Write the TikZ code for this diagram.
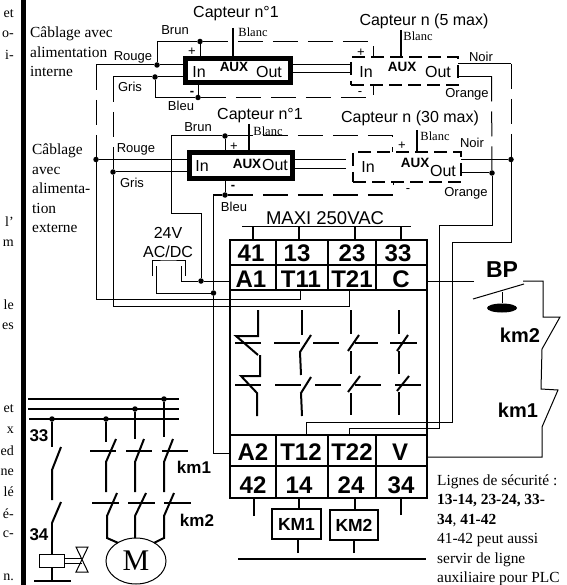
\documentclass[tikz,border=0pt]{standalone}
\usepackage{fontspec}
\setmainfont{Liberation Serif}
\setsansfont{Liberation Sans}
\usetikzlibrary{positioning,shapes.geometric}

\tikzset{
    wire/.style = {line width = 1},
    dashwire/.style = {line width = 1, dash pattern = on 25pt off 10pt},
    heavy/.style = {line width = 2},
    junction/.style = {circle, fill = black, inner sep = 0, minimum size = 5.5pt},
    sensorbox/.style = {draw, rectangle, line width = 5, inner sep = 0, outer sep = 0},
    dashbox/.style = {draw, rectangle, line width = 2, inner sep = 0, outer sep = 0, dash pattern = on 13pt off 6pt},
    cell/.style = {draw, rectangle, line width = 2, inner sep = 0, outer sep = 0},
    celltext/.style = {font = \sffamily\bfseries\fontsize{24}{24}\selectfont, inner sep = 0},
    tag/.style = {font = \sffamily\fontsize{13}{13}\selectfont, inner sep = 0},
    serifTag/.style = {font = \fontsize{12.5}{13}\selectfont, inner sep = 0},
    title/.style = {font = \sffamily\fontsize{16}{16}\selectfont, inner sep = 0},
    pinText/.style = {font = \sffamily\fontsize{16}{16}\selectfont, inner sep = 0},
    auxText/.style = {font = \sffamily\bfseries\fontsize{13.5}{14}\selectfont, inner sep = 0},
    signText/.style = {font = \sffamily\fontsize{13}{13}\selectfont, inner sep = 0},
    coilText/.style = {font = \sffamily\bfseries\fontsize{20}{20}\selectfont, inner sep = 0},
    smallBold/.style = {font = \sffamily\bfseries\fontsize{17}{17}\selectfont, inner sep = 0},
    note/.style = {font = \fontsize{15.4}{19.5}\selectfont, inner sep = 0, align = left},
    cutText/.style = {font = \fontsize{14}{15}\selectfont, inner sep = 0, anchor = east},
}

\begin{document}
\begin{tikzpicture}[x = 1pt, y = -1pt]
    \useasboundingbox (0,0) rectangle (566,585);

    \fill (21,0) rectangle (26,585);

    \node (cutA) [cutText] at (14,14) {et};
    \node (cutB) [cutText] at (14,34) {o-};
    \node (cutC) [cutText] at (14,55) {i-};
    \node (cutD) [cutText] at (14,222) {l’};
    \node (cutE) [cutText] at (14,243) {m};
    \node (cutF) [cutText] at (14,305) {le};
    \node (cutG) [cutText] at (14,326) {es};
    \node (cutH) [cutText] at (14,409) {et};
    \node (cutI) [cutText] at (14,430) {x};
    \node (cutJ) [cutText] at (14,451) {ed};
    \node (cutK) [cutText] at (14,472) {ne};
    \node (cutL) [cutText] at (14,492) {lé};
    \node (cutM) [cutText] at (14,514) {é-};
    \node (cutN) [cutText] at (14,534) {c-};
    \node (cutO) [cutText] at (14,577) {n.};

    \node (wiringInt) [note, anchor = west] at (30,52) {Câblage avec\\alimentation\\interne};
    \node (wiringExt) [note, anchor = west] at (32,188.5) {Câblage\\avec\\alimenta-\\tion\\externe};
    \node (safety) [note, anchor = west] at (437,530.5) {Lignes de sécurité :\\\textbf{13-14, 23-24, 33-}\\\textbf{34}, \textbf{41-42}\\41-42 peut aussi\\servir de ligne\\auxiliaire pour PLC};

    \node (sensorA) [sensorbox, minimum width = 105pt, minimum height = 24.5pt] at (238,70.75) {};
    \node (sensorB) [sensorbox, minimum width = 103pt, minimum height = 26pt] at (240.5,166) {};
    \node (sensorC) [dashbox, minimum width = 107pt, minimum height = 28pt] at (404.5,71) {};
    \node (sensorD) [dashbox, minimum width = 108pt, minimum height = 30pt] at (407,167) {};

    \node (brunA) [junction] at (200,41.5) {};
    \node (rougeA) [junction] at (157,65) {};
    \node (grisA) [junction] at (155,77) {};
    \node (bleuA) [junction] at (198,97.5) {};
    \node (rougeB) [junction] at (96,159.5) {};
    \node (grisB) [junction] at (113,172) {};
    \node (brunB) [junction] at (225,136) {};
    \node (bleuB) [junction] at (225,195) {};
    \node (noirD) [junction] at (511,159.5) {};
    \node (orangeD) [junction] at (492,173) {};
    \node (dotA1) [junction] at (201,281) {};
    \node (dotNeg) [junction] at (213.5,293) {};

    \coordinate (rougeTop) at (96,65);
    \coordinate (grisTop) at (113,77);
    \coordinate (plusC) at (373,57);
    \coordinate (minusC) at (373,85);
    \coordinate (plusD) at (392,152);
    \coordinate (minusD) at (393,182);
    \coordinate (blancA) at (233,28);
    \coordinate (blancB) at (249,124);
    \coordinate (blancC) at (401,30);
    \coordinate (blancD) at (417,130);
    \coordinate (linkLowA) at (293,73);
    \coordinate (stubB) at (346,159.5);
    \coordinate (stubLowB) at (346,169);
    \coordinate (noirTop) at (511,64);
    \coordinate (orangeTop) at (491.5,76.5);
    \coordinate (t11Low) at (300,299);
    \coordinate (t21Low) at (349,306);
    \coordinate (t12Low) at (306,422);
    \coordinate (t22Low) at (349,428);
    \coordinate (noirBend) at (452,242);
    \coordinate (orangeBend) at (439,225);
    \coordinate (brunBend) at (171,213);
    \coordinate (a2In) at (230,453);
    \coordinate (acLeft) at (152,276);
    \coordinate (acRight) at (185,276);
    \coordinate (acTop) at (168,260);
    \coordinate (pinLeft) at (156,266);
    \coordinate (pinRight) at (181,266);

    \node (block) [cell, minimum width = 197pt, minimum height = 258pt] at (328.5,369) {};
    \node (c41) [cell, minimum width = 46pt, minimum height = 25pt] at (253,252.5) {};
    \node (c13) [cell, minimum width = 52pt, minimum height = 25pt] at (302,252.5) {};
    \node (c23) [cell, minimum width = 48pt, minimum height = 25pt] at (352,252.5) {};
    \node (c33) [cell, minimum width = 51pt, minimum height = 25pt] at (401.5,252.5) {};
    \node (cA1) [cell, minimum width = 46pt, minimum height = 25pt] at (253,277.5) {};
    \node (cT11) [cell, minimum width = 52pt, minimum height = 25pt] at (302,277.5) {};
    \node (cT21) [cell, minimum width = 48pt, minimum height = 25pt] at (352,277.5) {};
    \node (cC) [cell, minimum width = 51pt, minimum height = 25pt] at (401.5,277.5) {};
    \node (cA2) [cell, minimum width = 46pt, minimum height = 31pt] at (253,450.5) {};
    \node (cT12) [cell, minimum width = 52pt, minimum height = 31pt] at (302,450.5) {};
    \node (cT22) [cell, minimum width = 48pt, minimum height = 31pt] at (352,450.5) {};
    \node (cV) [cell, minimum width = 51pt, minimum height = 31pt] at (401.5,450.5) {};
    \node (c42) [cell, minimum width = 46pt, minimum height = 32pt] at (253,482) {};
    \node (c14) [cell, minimum width = 52pt, minimum height = 32pt] at (302,482) {};
    \node (c24) [cell, minimum width = 48pt, minimum height = 32pt] at (352,482) {};
    \node (c34) [cell, minimum width = 51pt, minimum height = 32pt] at (401.5,482) {};

    \node (t41) [celltext] at (251,253) {41};
    \node (t13) [celltext] at (297,253) {13};
    \node (t23) [celltext] at (352,253) {23};
    \node (t33) [celltext] at (398,253) {33};
    \node (tA1) [celltext] at (251,279.5) {A1};
    \node (tT11) [celltext] at (301,279.5) {T11};
    \node (tT21) [celltext] at (352,279.5) {T21};
    \node (tC) [celltext] at (401,279.5) {C};
    \node (tA2) [celltext] at (253,452) {A2};
    \node (tT12) [celltext] at (301,452) {T12};
    \node (tT22) [celltext] at (352,452) {T22};
    \node (tV) [celltext] at (400,452) {V};
    \node (t42) [celltext] at (253,485) {42};
    \node (t14) [celltext] at (299,485) {14};
    \node (t24) [celltext] at (351,485) {24};
    \node (t34) [celltext] at (401,485) {34};

    \draw [wire] (rougeTop) -- (rougeA) -- (rougeA -| sensorA.west);
    \draw [wire] (grisTop) -- (grisA) -- (grisA -| sensorA.west);
    \draw [wire] (rougeA) |- (brunA);
    \draw [wire] (grisA) |- (bleuA);
    \draw [wire] (brunA) -- (brunA |- sensorA.north);
    \draw [wire] (bleuA) -- (bleuA |- sensorA.south);
    \draw [dashwire] (brunA) -| (plusC);
    \draw [dashwire] (bleuA) -| (minusC);
    \draw [dashwire] (rougeTop) -- (rougeB);
    \draw [dashwire] (grisTop) -- (grisB);
    \draw [wire] (rougeA -| sensorA.east) -- (rougeA -| sensorC.west);
    \draw [wire] (linkLowA) -- (linkLowA -| sensorC.west);

    \draw [wire] (rougeB) -- (rougeB -| sensorB.west);
    \draw [wire] (grisB) -- (grisB -| sensorB.west);
    \draw [wire] (rougeB) |- (t11Low) -- (t11Low |- cT11.south);
    \draw [wire] (grisB) |- (t21Low) -- (t21Low |- cT21.south);
    \draw [wire] (brunB) -- (brunB |- sensorB.north);
    \draw [wire] (bleuB) -- (bleuB |- sensorB.south);
    \draw [wire] (brunB) -| (brunBend) -| (dotA1);
    \draw [wire] (bleuB) -| (dotNeg);
    \draw [wire] (dotNeg) |- (a2In);
    \draw [dashwire] (brunB) -| (plusD);
    \draw [dashwire] (bleuB) -| (minusD);
    \draw [wire] (stubB) -- (stubB -| sensorB.east);
    \draw [wire] (stubLowB) -- (stubLowB -| sensorB.east);

    \draw [wire] (noirTop) -- (noirTop -| sensorC.east);
    \draw [wire] (orangeTop) -- (orangeTop -| sensorC.east);
    \draw [dashwire] (noirTop) -- (noirD);
    \draw [dashwire] (orangeTop) -- (orangeD);
    \draw [wire] (noirD) -- (noirD -| sensorD.east);
    \draw [wire] (orangeD) -- (orangeD -| sensorD.east);
    \draw [wire] (noirD) |- (noirBend) |- (t12Low) -- (t12Low |- cT12.north);
    \draw [wire] (orangeD) |- (orangeBend) |- (t22Low) -- (t22Low |- cT22.north);

    \draw [wire] (acLeft) |- (acTop) -| (acRight);
    \draw [wire] (pinLeft) |- (dotNeg);
    \draw [wire] (pinRight) |- (dotA1);
    \draw [wire] (dotA1) -- (dotA1 -| cA1.west);

    \draw [heavy] (blancA) -- (blancA |- sensorA.north);
    \draw [heavy] (blancB) -- (blancB |- sensorB.north);
    \draw [heavy] (blancC) -- (blancC |- sensorC.north);
    \draw [heavy] (blancD) -- (blancD |- sensorD.north);

    \node (capteurA) [title] at (236,14) {Capteur n°1};
    \node (capteurB) [title] at (260,116) {Capteur n°1};
    \node (capteurC) [title] at (424,21) {Capteur n (5 max)};
    \node (capteurD) [title] at (410,118) {Capteur n (30 max)};

    \node (labelBrunA) [tag] at (175,30) {Brun};
    \node (labelRougeA) [tag] at (133,57) {Rouge};
    \node (labelGrisA) [tag] at (130,87) {Gris};
    \node (labelBleuA) [tag] at (181,106) {Bleu};
    \node (labelBrunB) [tag] at (198,127) {Brun};
    \node (labelRougeB) [tag] at (136,149) {Rouge};
    \node (labelGrisB) [tag] at (132,183) {Gris};
    \node (labelBleuB) [tag] at (234,207) {Bleu};
    \node (labelNoirC) [tag] at (481,57) {Noir};
    \node (labelOrangeC) [tag] at (467,94) {Orange};
    \node (labelNoirD) [tag] at (472,143) {Noir};
    \node (labelOrangeD) [tag] at (466,193) {Orange};

    \node (labelBlancA) [serifTag] at (253,32) {Blanc};
    \node (labelBlancB) [serifTag] at (268,131) {Blanc};
    \node (labelBlancC) [serifTag] at (418,36) {Blanc};
    \node (labelBlancD) [serifTag] at (435,136) {Blanc};

    \node (inA) [pinText] at (199,72) {In};
    \node (auxA) [auxText] at (234,67) {AUX};
    \node (outA) [pinText] at (269,72) {Out};
    \node (inB) [pinText] at (202,166) {In};
    \node (auxB) [auxText] at (247,164) {AUX};
    \node (outB) [pinText] at (275,165) {Out};
    \node (inC) [pinText] at (366,72) {In};
    \node (auxC) [auxText] at (402,67) {AUX};
    \node (outC) [pinText] at (438,72) {Out};
    \node (inD) [pinText] at (368,167) {In};
    \node (auxD) [auxText] at (415,163) {AUX};
    \node (outD) [pinText] at (443,171) {Out};

    \node (plusTagA) [signText] at (192,52) {+};
    \node (minusTagA) [signText, font = \sffamily\bfseries\fontsize{13}{13}\selectfont] at (192,93) {-};
    \node (plusTagB) [signText] at (234,147) {+};
    \node (minusTagB) [signText, font = \sffamily\bfseries\fontsize{13}{13}\selectfont] at (233,187) {-};
    \node (plusTagC) [signText] at (361,53) {+};
    \node (minusTagC) [signText] at (360,94) {-};
    \node (plusTagD) [signText] at (402,146) {+};
    \node (minusTagD) [signText] at (408,191) {-};

    \node (supplyV) [title] at (168,233) {24V};
    \node (supplyType) [title] at (168,252) {AC/DC};
    \node (maxi) [font = \sffamily\fontsize{18.5}{19}\selectfont, inner sep = 0] at (325,218) {MAXI 250VAC};

    \coordinate (maxiLeft) at (242,226);
    \coordinate (maxiRight) at (411,226);
    \coordinate (term41) at (253,226);
    \coordinate (term13) at (299,226);
    \coordinate (term23) at (355,226);
    \coordinate (term33) at (401,226);
    \draw [wire] (maxiLeft) -- (maxiRight);
    \draw [heavy] (term41) -- (term41 |- c41.north);
    \draw [heavy] (term13) -- (term13 |- c13.north);
    \draw [heavy] (term23) -- (term23 |- c23.north);
    \draw [heavy] (term33) -- (term33 |- c33.north);

    \draw [heavy] (258,310) -- (258,336) -- (236,336) -- (258,355);
    \draw [heavy] (235,343) -- (261,343);
    \draw [heavy] (260,355) -- (260,376) -- (241,376) -- (257,393) -- (257,416);
    \draw [heavy] (235,385) -- (261,385);

    \draw [heavy] (302,310) -- (302,335);
    \draw [heavy] (274,343) -- (300,343);
    \draw [heavy] (313,343) -- (339,343);
    \draw [heavy] (311,335) -- (300,352) -- (301,375);
    \draw [heavy] (275,385) -- (301,385);
    \draw [heavy] (315,385) -- (341,385);
    \draw [heavy] (311,377) -- (301,393) -- (302,416);

    \draw [heavy] (351,310) -- (351,334);
    \draw [heavy] (355,343) -- (378,343);
    \draw [heavy] (359,335) -- (348,351);
    \draw [heavy] (351,351) -- (351,374);
    \draw [heavy] (355,385) -- (381,385);
    \draw [heavy] (360,376) -- (348,392);
    \draw [heavy] (351,393) -- (351,415);

    \draw [heavy] (399,310) -- (399,334);
    \draw [heavy] (390,343) -- (417,343);
    \draw [heavy] (408,335) -- (397,351);
    \draw [heavy] (399,351) -- (399,374);
    \draw [heavy] (395,385) -- (421,385);
    \draw [heavy] (409,376) -- (397,391);
    \draw [heavy] (399,392) -- (399,415);

    \node (bpTag) [font = \sffamily\bfseries\fontsize{23}{23}\selectfont, inner sep = 0] at (502,270) {BP};
    \node (bpKnob) [ellipse, fill = black, inner sep = 0, minimum width = 30pt, minimum height = 9pt] at (502,308) {};
    \node (km2Tag) [coilText] at (520,335) {km2};
    \node (km1Tag) [coilText] at (518,410) {km1};

    \coordinate (bpIn) at (474,281);
    \coordinate (swLow) at (473,299);
    \coordinate (swHigh) at (524,284);
    \coordinate (bpStem) at (502,292);
    \coordinate (swTop) at (523,281);
    \coordinate (km2In) at (543,317);
    \coordinate (km2Mid) at (560,317);
    \coordinate (km2Out) at (542,349);
    \coordinate (km1In) at (541,389);
    \coordinate (km1Mid) at (558,390);
    \coordinate (km1Out) at (542,427);
    \coordinate (vOut) at (427,457);

    \draw [wire] (bpIn) -- (bpIn -| cC.east);
    \draw [wire] (swLow) -- (swHigh);
    \draw [wire] (bpStem) -- (bpKnob);
    \draw [wire] (swTop) -| (km2In) -- (km2Mid) -- (km2Out) -- (km1In) -- (km1Mid) -- (km1Out) |- (vOut);

    \node (coilA) [cell, minimum width = 49pt, minimum height = 30pt, font = \sffamily\bfseries\fontsize{17.5}{18}\selectfont] at (296.5,524) {KM1};
    \node (coilB) [cell, minimum width = 48pt, minimum height = 30pt, font = \sffamily\bfseries\fontsize{17.5}{18}\selectfont] at (354,525) {KM2};

    \coordinate (term42) at (254,516);
    \coordinate (term14) at (299,498);
    \coordinate (term24) at (355,498);
    \coordinate (term34) at (401,515);
    \coordinate (footA) at (298,553);
    \coordinate (footB) at (354,553);
    \coordinate (coilBusLeft) at (238,559);
    \coordinate (coilBusRight) at (426,559);
    \draw [heavy] (term42) -- (term42 |- c42.south);
    \draw [heavy] (term14) -- (term14 |- coilA.north);
    \draw [heavy] (term24) -- (term24 |- coilB.north);
    \draw [heavy] (term34) -- (term34 |- c34.south);
    \draw [heavy] (footA) -- (footA |- coilA.south);
    \draw [heavy] (footB) -- (footB |- coilB.south);
    \draw [heavy] (coilBusLeft) -- (coilBusRight);

    \coordinate (busTopLeft) at (28,399);
    \coordinate (busTopRight) at (179,399);
    \coordinate (busMidLeft) at (28,409);
    \coordinate (busMidRight) at (179,409);
    \coordinate (busLowLeft) at (29,419);
    \coordinate (busLowRight) at (179,419);
    \draw [heavy] (busTopLeft) -- (busTopRight);
    \draw [heavy] (busMidLeft) -- (busMidRight);
    \draw [heavy] (busLowLeft) -- (busLowRight);

    \node (busDotA) [junction] at (52,419) {};
    \node (busDotB) [junction] at (106,419) {};
    \node (busDotC) [junction] at (135,409) {};
    \node (busDotD) [junction] at (164,399) {};

    \node (tag33) [smallBold] at (39,436) {33};
    \node (tag34) [smallBold] at (39,535) {34};
    \node (tagKm1) [smallBold] at (194,467) {km1};
    \node (tagKm2) [smallBold] at (197,520) {km2};

    \node (relay) [draw, rectangle, line width = 1, inner sep = 0, outer sep = 0, minimum width = 25pt, minimum height = 13pt] at (51.5,560.5) {};
    \node (motor) [draw, ellipse, line width = 1, inner sep = 0, outer sep = 0, minimum width = 60pt, minimum height = 46pt, font = \fontsize{30}{30}\selectfont] at (136,561) {M};

    \coordinate (contact33) at (52,447);
    \coordinate (contact34) at (52,523);
    \coordinate (footBar) at (52,581);
    \coordinate (valveHigh) at (82,558);
    \coordinate (valveLow) at (82,563);
    \draw [heavy] (busDotA) -- (contact33);
    \draw [heavy] (61,447) -- (52,470) -- (52,500);
    \draw [heavy] (61,502) -- (contact34);
    \draw [heavy] (contact34) -- (contact34 |- relay.north);
    \draw [heavy] (relay.south) -- (relay.south |- footBar);
    \draw [heavy] (34,581) -- (71,581);
    \draw [wire] (valveHigh) -- (valveHigh -| relay.east);
    \draw [wire] (valveLow) -- (valveLow -| relay.east);
    \draw [wire] (76,547) -- (88,547) -- (76,572) -- (88,572) -- cycle;

    \coordinate (powerA) at (106,442);
    \coordinate (powerB) at (135,439);
    \coordinate (powerC) at (164,437);
    \draw [heavy] (busDotB) -- (powerA);
    \draw [heavy] (busDotC) -- (powerB);
    \draw [heavy] (busDotD) -- (powerC);

    \draw [heavy] (90,451) -- (116,451);
    \draw [heavy] (126,451) -- (152,451);
    \draw [heavy] (162,451) -- (188,451);
    \draw [heavy] (116,439) -- (106,462) -- (106,492);
    \draw [heavy] (144,439) -- (135,462) -- (135,492);
    \draw [heavy] (173,439) -- (164,462) -- (164,492);

    \draw [heavy] (92,503) -- (119,503);
    \draw [heavy] (128,503) -- (155,503);
    \draw [heavy] (164,503) -- (191,503);
    \draw [heavy] (117,493) -- (107,516) -- (107,538) -- (motor.135);
    \draw [heavy] (146,493) -- (135,516) -- (135,538);
    \draw [heavy] (174,493) -- (164,516) -- (164,538) -- (motor.45);
\end{tikzpicture}
\end{document}
